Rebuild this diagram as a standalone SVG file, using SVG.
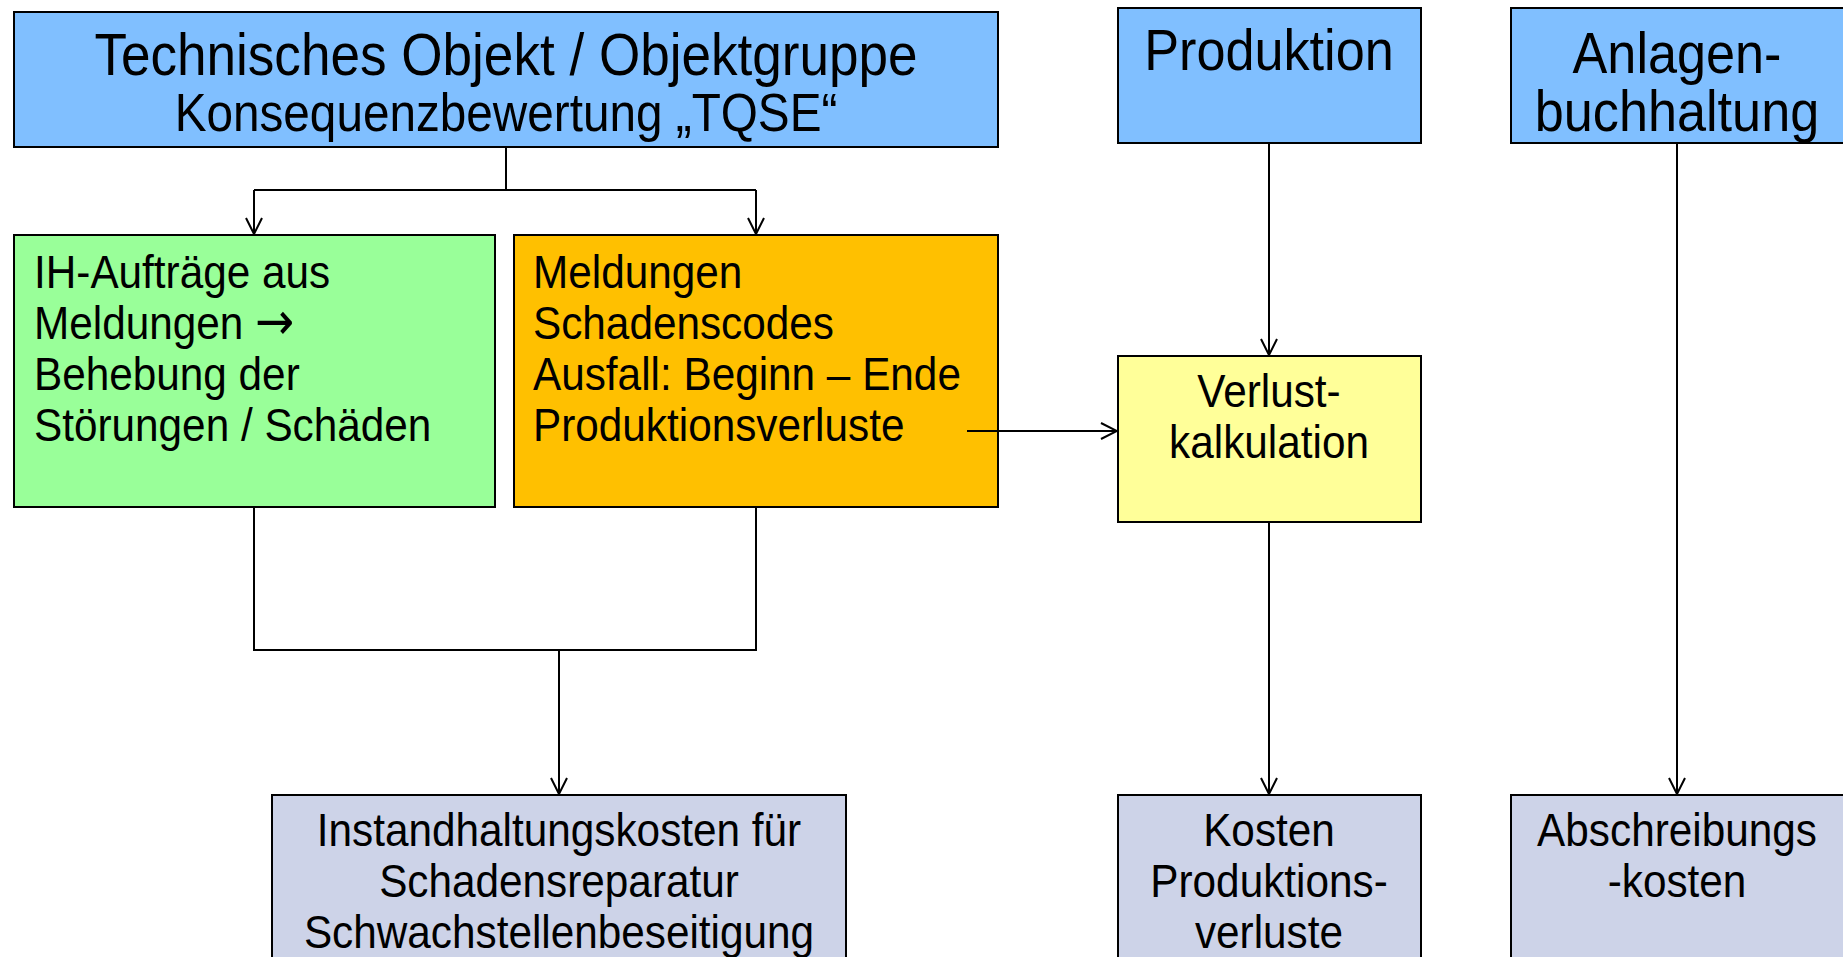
<svg xmlns="http://www.w3.org/2000/svg" width="1843" height="957" viewBox="0 0 1843 957">
<defs>
<style>
.box{stroke:#000;stroke-width:2}
.t{font-family:"Liberation Sans",Arial,sans-serif;fill:#000}
.l{font-size:47px}
.h{font-size:58px}
.c{text-anchor:middle}
.con{fill:none;stroke:#000;stroke-width:2}
</style>
<marker id="ah" viewBox="0 0 18 18" refX="17" refY="9" markerWidth="18" markerHeight="18" markerUnits="userSpaceOnUse" orient="auto">
<path d="M1,1 L17,9 L1,17" fill="none" stroke="#000" stroke-width="2"/>
</marker>
</defs>
<rect width="1843" height="957" fill="#fff"/>
<g id="objekt">
<rect class="box" x="14" y="12" width="984" height="135" fill="#80BFFF"/>
<text class="t c" font-size="59" transform="translate(506,75) scale(0.9,1)">Technisches Objekt / Objektgruppe</text>
<text class="t c" font-size="53" transform="translate(506,131) scale(0.9,1)">Konsequenzbewertung „TQSE“</text>
</g>
<g id="produktion">
<rect class="box" x="1118" y="8" width="303" height="135" fill="#80BFFF"/>
<text class="t c h" transform="translate(1269,70) scale(0.9,1)">Produktion</text>
</g>
<g id="anlagen">
<rect class="box" x="1511" y="8" width="340" height="135" fill="#80BFFF"/>
<text class="t c h" transform="translate(1677,73) scale(0.9,1)"><tspan x="0">Anlagen-</tspan><tspan x="0" dy="58">buchhaltung</tspan></text>
</g>
<g id="ih-auftraege">
<rect class="box" x="14" y="235" width="481" height="272" fill="#99FF99"/>
<text class="t l" transform="translate(34,288) scale(0.9,1)"><tspan x="0">IH-Aufträge aus</tspan><tspan x="0" dy="51">Meldungen <tspan font-family="'DejaVu Sans',sans-serif" font-size="52">→</tspan></tspan><tspan x="0" dy="51">Behebung der</tspan><tspan x="0" dy="51">Störungen / Schäden</tspan></text>
</g>
<g id="meldungen">
<rect class="box" x="514" y="235" width="484" height="272" fill="#FFC000"/>
<text class="t l" transform="translate(533,288) scale(0.9,1)"><tspan x="0">Meldungen</tspan><tspan x="0" dy="51">Schadenscodes</tspan><tspan x="0" dy="51">Ausfall: Beginn – Ende</tspan><tspan x="0" dy="51">Produktionsverluste</tspan></text>
</g>
<g id="verlust">
<rect class="box" x="1118" y="356" width="303" height="166" fill="#FFFF99"/>
<text class="t c l" transform="translate(1269,407) scale(0.9,1)"><tspan x="0">Verlust-</tspan><tspan x="0" dy="51">kalkulation</tspan></text>
</g>
<g id="ih-kosten">
<rect class="box" x="272" y="795" width="574" height="180" fill="#CDD3E8"/>
<text class="t c l" transform="translate(559,846) scale(0.9,1)"><tspan x="0">Instandhaltungskosten für</tspan><tspan x="0" dy="51">Schadensreparatur</tspan><tspan x="0" dy="51">Schwachstellenbeseitigung</tspan></text>
</g>
<g id="kosten-produktion">
<rect class="box" x="1118" y="795" width="303" height="180" fill="#CDD3E8"/>
<text class="t c l" transform="translate(1269,846) scale(0.9,1)"><tspan x="0">Kosten</tspan><tspan x="0" dy="51">Produktions-</tspan><tspan x="0" dy="51">verluste</tspan></text>
</g>
<g id="abschreibung">
<rect class="box" x="1511" y="795" width="340" height="180" fill="#CDD3E8"/>
<text class="t c l" transform="translate(1677,846) scale(0.9,1)"><tspan x="0">Abschreibungs</tspan><tspan x="0" dy="51">-kosten</tspan></text>
</g>
<g id="connectors">
<path class="con" d="M506,148 V190 M254,190 H756"/>
<path class="con" d="M254,190 V234" marker-end="url(#ah)"/>
<path class="con" d="M756,190 V234" marker-end="url(#ah)"/>
<path class="con" d="M254,508 V650 H756 V508"/>
<path class="con" d="M559,650 V794" marker-end="url(#ah)"/>
<path class="con" d="M967,431 H1117" marker-end="url(#ah)"/>
<path class="con" d="M1269,144 V355" marker-end="url(#ah)"/>
<path class="con" d="M1269,523 V794" marker-end="url(#ah)"/>
<path class="con" d="M1677,144 V794" marker-end="url(#ah)"/>
</g>
</svg>
